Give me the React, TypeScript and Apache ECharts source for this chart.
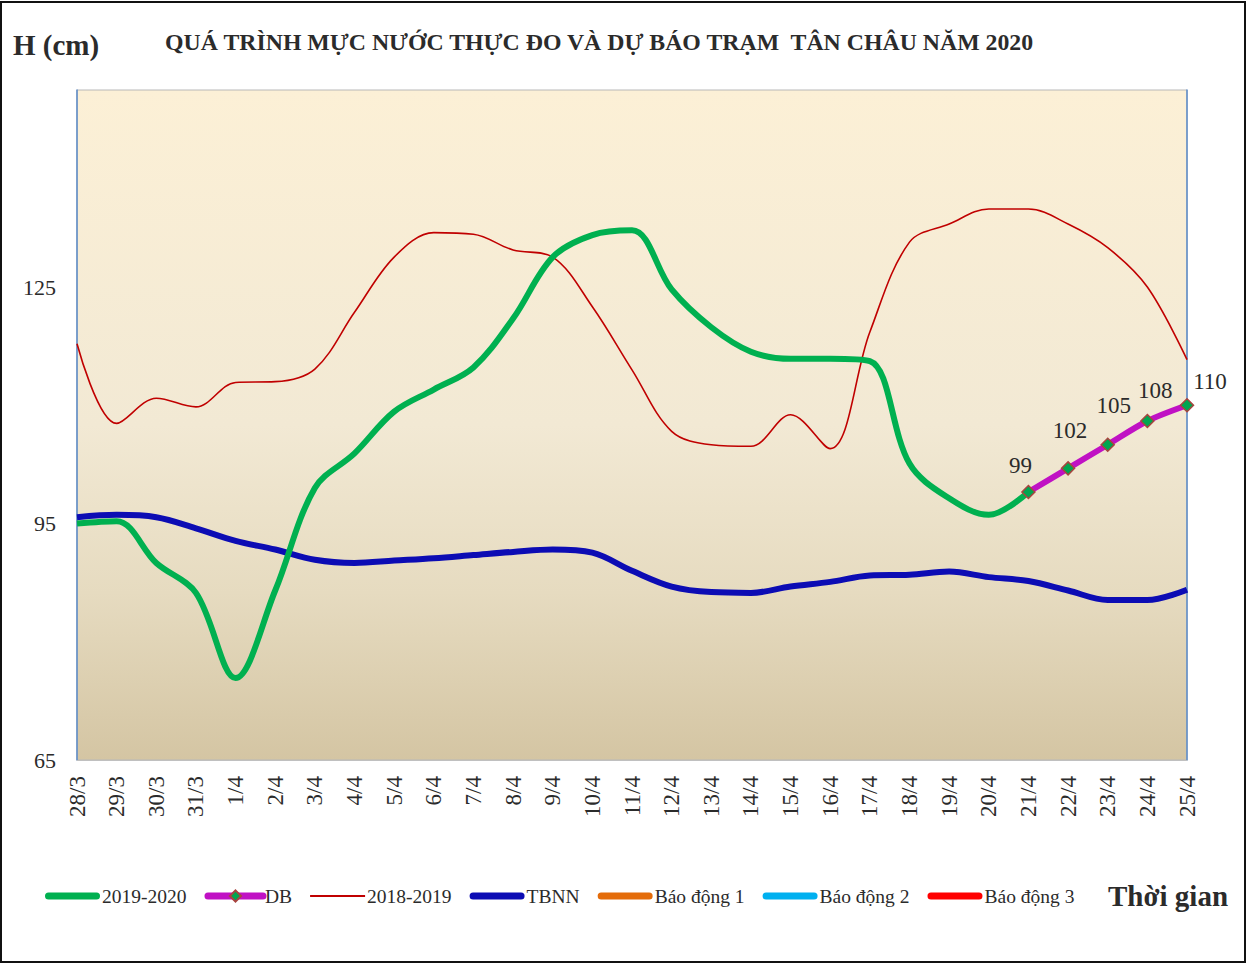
import React, { useEffect, useRef } from "react";
import * as echarts from "echarts";

const categories = ["28/3","29/3","30/3","31/3","1/4","2/4","3/4","4/4","5/4","6/4","7/4","8/4","9/4","10/4","11/4","12/4","13/4","14/4","15/4","16/4","17/4","18/4","19/4","20/4","21/4","22/4","23/4","24/4","25/4"];

const s2019_2020: (number | null)[] = [95, 95.3, 90, 86.2, 75.4, 86.5, 99.5, 103.9, 109.2, 112, 114.8, 121, 128.8, 131.6, 132.2, 124.7, 119.9, 116.8, 115.9, 115.9, 115.6, 102.6, 98.2, 96.1, 99, null, null, null, null];
const sDB: (number | null)[] = [null, null, null, null, null, null, null, null, null, null, null, null, null, null, null, null, null, null, null, null, null, null, null, null, 99, 102, 105, 108, 110];
const s2018_2019 = [117.8, 107.7, 110.9, 109.8, 112.9, 113, 114.6, 121.8, 128.8, 131.9, 131.7, 129.7, 128.8, 122.5, 114.5, 106.7, 105, 104.8, 108.8, 104.5, 119.3, 130.7, 133, 134.9, 134.9, 133, 130, 125, 115.8];
const sTBNN = [95.8, 96.1, 95.8, 94.4, 92.8, 91.7, 90.4, 90, 90.3, 90.6, 91, 91.4, 91.7, 91.3, 89, 87, 86.3, 86.2, 87, 87.6, 88.4, 88.5, 88.9, 88.2, 87.7, 86.5, 85.3, 85.3, 86.6];
const sBD1: (number | null)[] = [];
const sBD2: (number | null)[] = [];
const sBD3: (number | null)[] = [];

// label nudges for the forecast values (index within DB points)
const dbLabelOffsets: [number, number][] = [[-8, 4], [2, -7], [6, -8], [8, 0], [23, 7]];

const FONT = "'Liberation Serif', 'Times New Roman', serif";
const THICK = "path://M3.5,0 H51.5 A3.5,3.5 0 0 1 51.5,7 H3.5 A3.5,3.5 0 0 1 3.5,0 Z";
const THIN = "path://M0,0 H55 V1.8 H0 Z";

export default function App() {
  const ref = useRef<HTMLDivElement>(null);
  useEffect(() => {
    if (!ref.current) return;
    const chart = echarts.init(ref.current, undefined, { renderer: "svg" });
    let k = 0;
    const dbData = sDB.map((v) => {
      if (v === null) return null;
      const off = dbLabelOffsets[k++] || [0, 0];
      return { value: v, label: { offset: off } };
    });
    chart.setOption({
      animation: false,
      backgroundColor: "#ffffff",
      textStyle: { fontFamily: FONT },
      title: [
        {
          text: "QUÁ TRÌNH MỰC NƯỚC THỰC ĐO VÀ DỰ BÁO TRẠM  TÂN CHÂU NĂM 2020",
          left: 165,
          top: 30,
          padding: 0,
          textStyle: { fontFamily: FONT, fontSize: 23.8, fontWeight: "bold", color: "#2b2b2b" },
        },
        {
          text: "H (cm)",
          left: 13,
          top: 30,
          padding: 0,
          textStyle: { fontFamily: FONT, fontSize: 29, fontWeight: "bold", color: "#2b2b2b" },
        },
        {
          text: "Thời gian",
          left: 1108,
          top: 881,
          padding: 0,
          textStyle: { fontFamily: FONT, fontSize: 29, fontWeight: "bold", color: "#2b2b2b" },
        },
      ],
      graphic: [
        {
          type: "rect",
          shape: { x: 1, y: 2, width: 1244, height: 960 },
          style: { fill: "none", stroke: "#111", lineWidth: 2 },
          silent: true,
        },
      ],
      legend: {
        left: 45,
        top: 886,
        padding: 0,
        itemWidth: 55,
        itemHeight: 14,
        itemGap: 18,
        symbolKeepAspect: true,
        textStyle: { fontFamily: FONT, fontSize: 19.5, color: "#2b2b2b", padding: [0, 0, 0, -3] },
        data: [
          { name: "2019-2020", icon: THICK },
          { name: "DB", lineStyle: { width: 7, cap: "round" } },
          { name: "2018-2019", icon: THIN },
          { name: "TBNN", icon: THICK },
          { name: "Báo động 1", icon: THICK },
          { name: "Báo động 2", icon: THICK },
          { name: "Báo động 3", icon: THICK },
        ],
      },
      grid: {
        left: 77,
        right: 61,
        top: 90,
        bottom: 206,
        show: true,
        borderColor: "#b8b8b8",
        borderWidth: 1,
        backgroundColor: {
          type: "linear",
          x: 0, y: 0, x2: 0, y2: 1,
          colorStops: [
            { offset: 0, color: "#fcf0d6" },
            { offset: 0.5, color: "#f2e9d4" },
            { offset: 0.75, color: "#e6dbc0" },
            { offset: 1, color: "#d4c5a3" },
          ],
        },
      },
      xAxis: {
        type: "category",
        data: categories,
        boundaryGap: false,
        axisLine: { lineStyle: { color: "#c0c0c0", width: 1 } },
        axisTick: { show: false },
        axisLabel: {
          rotate: 90,
          interval: 0,
          margin: 16,
          fontFamily: FONT,
          fontSize: 23,
          color: "#2b2b2b",
        },
        splitLine: { show: false },
      },
      yAxis: [
        {
          type: "value",
          min: 65,
          max: 150,
          interval: 30,
          axisLine: { show: true, lineStyle: { color: "#5b8bc9", width: 1.5 } },
          axisTick: { show: false },
          splitLine: { show: false },
          axisLabel: {
            showMaxLabel: false,
            margin: 21,
            fontFamily: FONT,
            fontSize: 22,
            color: "#2b2b2b",
          },
        },
        {
          type: "value",
          min: 65,
          max: 150,
          interval: 30,
          position: "right",
          axisLine: { show: true, lineStyle: { color: "#5b8bc9", width: 1.5 } },
          axisTick: { show: false },
          splitLine: { show: false },
          axisLabel: { show: false },
        },
      ],
      series: [
        {
          name: "2019-2020",
          type: "line",
          data: s2019_2020,
          smooth: 0.35,
          symbol: "none",
          z: 5,
          lineStyle: { color: "#00b050", width: 6 },
          itemStyle: { color: "#00b050" },
        },
        {
          name: "DB",
          type: "line",
          data: dbData,
          smooth: 0.3,
          symbol: "diamond",
          symbolSize: 13,
          z: 6,
          lineStyle: { color: "#c011c4", width: 6 },
          itemStyle: { color: "#00a550", borderColor: "#a8443f", borderWidth: 1.5 },
          label: {
            show: true,
            position: "top",
            distance: 12,
            fontFamily: FONT,
            fontSize: 23,
            color: "#2b2b2b",
            formatter: (p: any) => String(p.value),
          },
        },
        {
          name: "2018-2019",
          type: "line",
          data: s2018_2019,
          smooth: 0.35,
          symbol: "none",
          z: 4,
          lineStyle: { color: "#c00000", width: 1.6 },
          itemStyle: { color: "#c00000" },
        },
        {
          name: "TBNN",
          type: "line",
          data: sTBNN,
          smooth: 0.35,
          symbol: "none",
          z: 3,
          lineStyle: { color: "#0c0cb4", width: 6 },
          itemStyle: { color: "#0c0cb4" },
        },
        {
          name: "Báo động 1",
          type: "line",
          data: sBD1,
          symbol: "none",
          lineStyle: { color: "#e46c0a", width: 6 },
          itemStyle: { color: "#e46c0a" },
        },
        {
          name: "Báo động 2",
          type: "line",
          data: sBD2,
          symbol: "none",
          lineStyle: { color: "#00b0f0", width: 6 },
          itemStyle: { color: "#00b0f0" },
        },
        {
          name: "Báo động 3",
          type: "line",
          data: sBD3,
          symbol: "none",
          lineStyle: { color: "#ff0000", width: 6 },
          itemStyle: { color: "#ff0000" },
        },
      ],
    });
    return () => chart.dispose();
  }, []);
  return (
    <div
      ref={ref}
      style={{ position: "absolute", left: 0, top: 0, width: 1248, height: 966 }}
    />
  );
}
